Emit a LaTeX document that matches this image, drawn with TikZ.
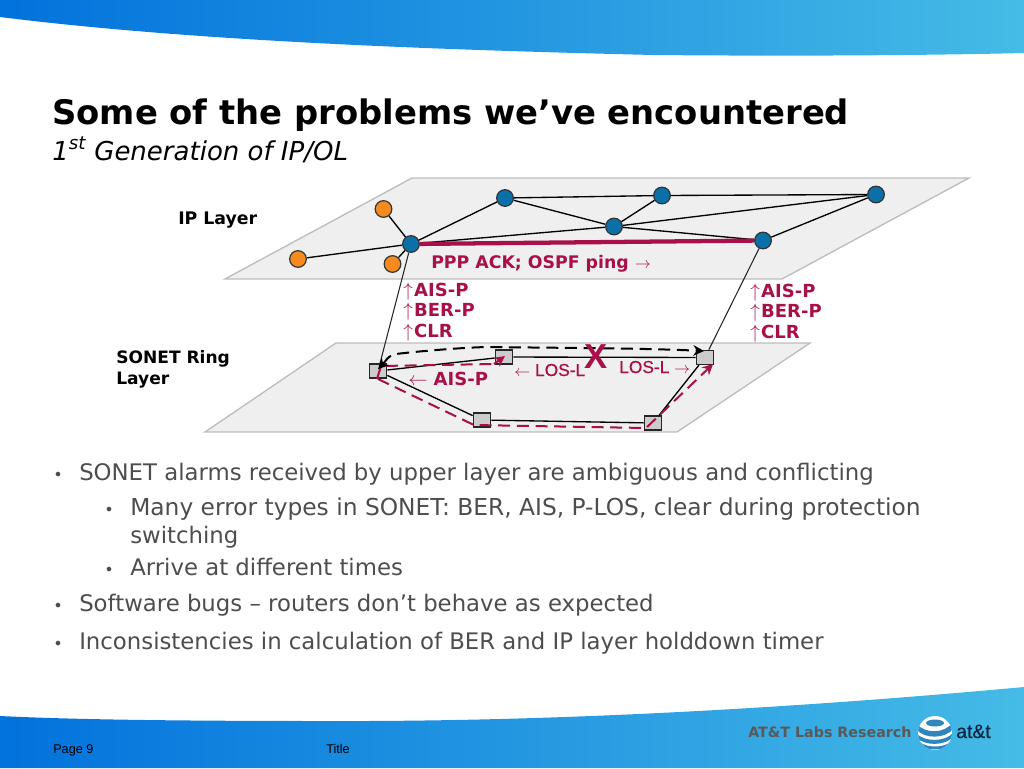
\documentclass[tikz,border=0pt]{standalone}
\usepackage{fontspec}
\setmainfont{DejaVu Sans}
\newfontfamily\arialfont{Liberation Sans}
\newfontfamily\losfont[FakeBold=0.5]{Liberation Sans}
\usetikzlibrary{arrows.meta}
\definecolor{crim}{HTML}{A8104A}
\definecolor{nodeblue}{HTML}{0B6FA8}
\definecolor{nodeorange}{HTML}{F58A1E}
\definecolor{planefill}{HTML}{EFEFEF}
\definecolor{planeline}{HTML}{BDBDBD}
\definecolor{bandleft}{HTML}{0272DC}
\definecolor{bandright}{HTML}{45BBE6}
\definecolor{bodygray}{HTML}{4D4D4D}
\definecolor{globeblue}{HTML}{2F86BC}
\definecolor{brandnavy}{HTML}{0A2540}
\tikzset{
  plane/.style={fill=planefill,draw=planeline,line width=1pt},
  band/.style={left color=bandleft,right color=bandright},
  router/.style={circle,draw=black!80,fill=nodeblue,line width=0.9pt,minimum size=12.5pt,inner sep=0pt},
  hostnode/.style={router,fill=nodeorange},
  adm/.style={rectangle,draw=black!85,fill=black!20,line width=1pt,minimum width=13pt,minimum height=10.5pt,inner sep=0pt},
  link/.style={black,line width=1pt},
  uplink/.style={black!85,line width=0.8pt},
  alarm/.style={crim,dash pattern=on 9pt off 5pt,line width=1.5pt},
  keepalive/.style={black,dash pattern=on 9pt off 5pt,line width=1.5pt},
  txt/.style={anchor=base west,inner sep=0pt},
  bodytxt/.style={txt,text=bodygray,font=\fontsize{17.1}{21}\selectfont},
  dot/.style={txt,text=bodygray,font=\fontsize{12}{14}\selectfont},
  boldlab/.style={txt,font=\fontsize{13}{15.2}\selectfont\bfseries},
  redlab/.style={boldlab,text=crim,align=left},
  alarmlab/.style={redlab,font=\fontsize{13.5}{15.2}\selectfont\bfseries},
  loslab/.style={txt,text=crim,font=\fontsize{13}{15}\selectfont\losfont},
}
\begin{document}
\begin{tikzpicture}[x=0.75pt,y=-0.75pt]
\useasboundingbox (0,0) rectangle (1024,768);
% bands
\shade [band] (0,0) -- (1024,0) -- (1024,53) .. controls (900,56) and (760,56) .. (653,55) .. controls (450,50) and (200,42) .. (0,17) -- cycle;
\shade [band] (0,768) -- (1024,768) -- (1024,687) .. controls (860,702) and (600,722) .. (326,721) .. controls (200,721) and (80,720) .. (0,716) -- cycle;
% planes
\draw [plane] (225,279) -- (412,178) -- (969,178) -- (782,279) -- cycle;
\draw [plane] (205,432) -- (336,343) -- (810,343) -- (677,432) -- cycle;
% IP layer
\node [hostnode] (hostA) at (383.5,209) {};
\node [hostnode] (hostB) at (298,259) {};
\node [hostnode] (hostC) at (392.5,264) {};
\node [router] (hub) at (411,244) {};
\node [router] (rTop) at (505,198) {};
\node [router] (rMid) at (662,195.5) {};
\node [router] (rFar) at (876,194.5) {};
\node [router] (rCen) at (614,226.5) {};
\node [router] (rEnd) at (763,240.5) {};
% SONET ring
\node [adm] (admA) at (378,371) {};
\node [adm] (admB) at (504,357) {};
\node [adm] (admC) at (705,357.5) {};
\node [adm] (admD) at (482,420) {};
\node [adm] (admE) at (653,423) {};
% links
\foreach \a/\b in {hub/hostA,hub/hostB,hub/hostC,hub/rTop,hub/rCen,rTop/rMid,rTop/rCen,rMid/rFar,rMid/rCen,rCen/rFar,rCen/rEnd,rEnd/rFar,admA/admB,admB/admC,admA/admD,admD/admE,admE/admC}
  \draw [link] (\a) -- (\b);
\draw [uplink] (hub) -- (admA);
\draw [uplink] (rEnd) -- (admC);
\draw [crim,line width=3.2pt] (hub) -- (rEnd);
% alarms
\coordinate (tickA) at (377,379);
\coordinate (kneeA) at (381,366);
\coordinate (kneeB) at (494,364);
\coordinate (tipB) at (505,356);
\coordinate (startB) at (378,379);
\coordinate (kneeD) at (474,425);
\coordinate (kneeE) at (646,428);
\coordinate (tipC) at (713,364);
\draw [alarm] (tickA) -- (kneeA) -- (kneeB);
\draw [crim,line width=1.5pt,-{Stealth[length=8pt,width=8pt]}] (kneeB) -- (tipB);
\draw [alarm,-{Stealth[length=8pt,width=8pt]}] (startB) -- (kneeD) -- (kneeE) -- (tipC);
\coordinate (tipL) at (378,369);
\coordinate (bendL) at (396,354);
\coordinate (topL) at (490,347);
\coordinate (tipR) at (704,351);
\draw [keepalive,{Stealth[length=8pt,width=8pt]}-{Stealth[length=8pt,width=8pt]}] (tipL) .. controls (386,361) and (388,355) .. (bendL) .. controls (420,351) and (470,347) .. (topL) .. controls (560,348) and (640,348) .. (tipR);
% labels
\node [boldlab] (ipLab) at (178,224) {IP Layer};
\node [boldlab,font=\fontsize{12.8}{15.2}\selectfont\bfseries,align=left] (ringLab) at (116,384) {SONET Ring\\Layer};
\node [redlab] (pingLab) at (431,268) {PPP ACK; OSPF ping $\rightarrow$};
\node [alarmlab] (alarmL) at (403,337) {$\uparrow$\kern1pt AIS-P\\$\uparrow$\kern1pt BER-P\\$\uparrow$\kern1pt CLR};
\node [alarmlab] (alarmR) at (750,338) {$\uparrow$\kern1pt AIS-P\\$\uparrow$\kern1pt BER-P\\$\uparrow$\kern1pt CLR};
\node [alarmlab] (aisLab) at (408,385) {$\leftarrow$ AIS-P};
\node [loslab] (losL) at (514,376) {$\leftarrow$ LOS-L};
\node [loslab] (losR) at (619,373) {LOS-L $\rightarrow$};
\node [txt,text=crim,font=\fontsize{26}{26}\selectfont\arialfont\bfseries] (cut) at (584,368) {X};
% text
\node [txt,font=\fontsize{25.35}{30}\selectfont\bfseries] (title) at (52,124) {Some of the problems we’ve encountered};
\node [txt,font=\fontsize{19.5}{23}\selectfont\itshape] (subtitle) at (52,160) {1\textsuperscript{st} Generation of IP/OL};
\node [dot] (d1) at (53,480) {•};
\node [bodytxt] (l1) at (79,480) {SONET alarms received by upper layer are ambiguous and conflicting};
\node [dot] (d2) at (104,515) {•};
\node [bodytxt,font=\fontsize{17.5}{21}\selectfont] (l2) at (130,515) {Many error types in SONET: BER, AIS, P-LOS, clear during protection};
\node [bodytxt] (l3) at (130,543) {switching};
\node [dot] (d3) at (104,575) {•};
\node [bodytxt] (l4) at (130,575) {Arrive at different times};
\node [dot] (d4) at (53,611) {•};
\node [bodytxt] (l5) at (79,611) {Software bugs – routers don’t behave as expected};
\node [dot] (d5) at (53,649) {•};
\node [bodytxt] (l6) at (79,649) {Inconsistencies in calculation of BER and IP layer holddown timer};
% footer
\node [txt,font=\fontsize{9.5}{11}\selectfont\arialfont] (page) at (53,753) {Page 9};
\node [txt,font=\fontsize{9.5}{11}\selectfont\arialfont] (foot) at (326,753) {Title};
\node [txt,text=black!65,font=\fontsize{10.7}{12}\selectfont\bfseries] (labs) at (748,737) {AT\&T Labs Research};
\node [txt,text=brandnavy,font=\fontsize{14.5}{16}\selectfont\losfont] (brand) at (956,738) {at\&t};
% globe
\begin{scope}
\clip (935,733) circle (17);
\fill [white] (917,715) rectangle (953,751);
\fill [globeblue] (935,723) ellipse (9 and 3.5);
\fill [globeblue] (917,724) .. controls (925,734) and (945,734) .. (953,722) -- (953,729) .. controls (945,739) and (925,739) .. (917,730) -- cycle;
\fill [globeblue] (917,734) .. controls (925,742) and (945,742) .. (953,733) -- (953,737) .. controls (945,746) and (925,746) .. (917,738) -- cycle;
\fill [globeblue] (920,742) .. controls (926,748) and (944,748) .. (950,742) -- (950,745) .. controls (944,751) and (926,751) .. (920,745) -- cycle;
\end{scope}
\end{tikzpicture}
\end{document}
